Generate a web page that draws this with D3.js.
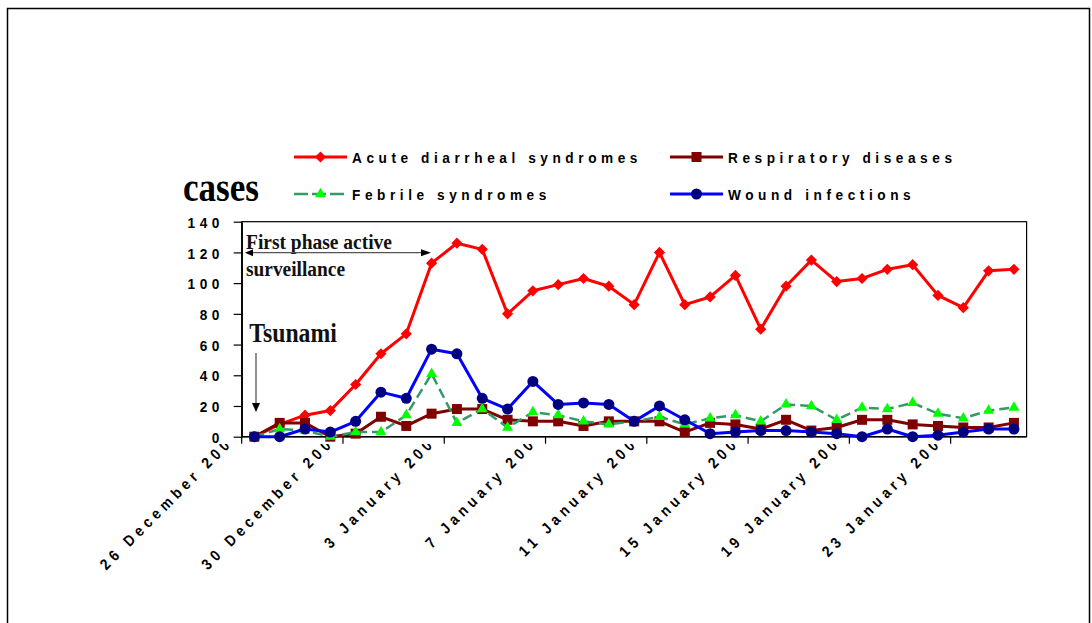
<!DOCTYPE html>
<html><head><meta charset="utf-8">
<script src="https://cdn.jsdelivr.net/npm/d3@7"></script>
<style>body{margin:0;background:#fff} svg{display:block}</style>
</head><body>
<svg id="c" width="1092" height="623"></svg>
<script>
const categories = ["26 December 2004","27 December 2004","28 December 2004","29 December 2004","30 December 2004","31 December 2004",
  "1 January 2005","2 January 2005","3 January 2005","4 January 2005","5 January 2005","6 January 2005","7 January 2005",
  "8 January 2005","9 January 2005","10 January 2005","11 January 2005","12 January 2005","13 January 2005","14 January 2005",
  "15 January 2005","16 January 2005","17 January 2005","18 January 2005","19 January 2005","20 January 2005","21 January 2005",
  "22 January 2005","23 January 2005","24 January 2005","25 January 2005"];
const acute       = [0,8,14,17,34,54,67,113,126,122,80,95,99,103,98,86,120,86,91,105,70,98,115,101,103,109,112,92,84,108,109];
const respiratory = [0,9,9,0,2,13,7,15,18,18,11,10,10,7,10,10,10,3,9,8,5,11,4,6,11,11,8,7,6,6,9];
const febrile     = [0,5,4,0,3,3,14,41,9,18,6,16,14,10,8,10,13,8,12,14,10,21,20,11,19,18,22,15,12,17,19];
const wound       = [0,0,5,3,10,29,25,57,54,25,18,36,21,22,21,10,20,11,2,3,4,4,3,2,0,5,0,1,3,5,5];
const seriesNames = ["Acute diarrheal syndromes","Respiratory diseases","Febrile syndromes","Wound infections"];
const yTicks = [0,20,40,60,80,100,120,140];
const xLabelStep = 4;

const svg = d3.select("#c");
const x = d3.scaleBand().domain(categories).range([241.7, 1026.6]).padding(0);
const y = d3.scaleLinear().domain([0,140]).range([436.7, 221.7]);
const cx = d => x(d) + x.bandwidth()/2;
const AR = "'Liberation Sans', Arial, sans-serif";
const TR = "'Liberation Serif', 'Times New Roman', serif";
const FS = 15.5, SX = 0.88, LS = "5.2px";
const styleAr = t => t.attr("font-family",AR).attr("font-weight","bold").attr("font-size",FS)
  .attr("letter-spacing",LS).attr("fill","#000");

// outer chart border
svg.append("rect").attr("x",7.5).attr("y",8.5).attr("width",1082).attr("height",700)
  .attr("fill","none").attr("stroke","#000").attr("stroke-width",1.5);

// x labels (clipped by plot area)
svg.append("defs").append("clipPath").attr("id","lc").append("rect")
  .attr("x",0).attr("y",444).attr("width",1092).attr("height",200);
const lg = svg.append("g").attr("clip-path","url(#lc)");
categories.forEach((d,i) => {
  if (i % xLabelStep) return;
  lg.append("text").attr("transform",`translate(${cx(d)-16},431) rotate(-45) scale(${SX},1)`)
    .attr("text-anchor","end").attr("dy","0.35em").call(styleAr).text(d);
});

// plot border
svg.append("rect").attr("x",x.range()[0]).attr("y",y(140)).attr("width",x.range()[1]-x.range()[0])
  .attr("height",y(0)-y(140)).attr("fill","none").attr("stroke","#000").attr("stroke-width",1.2);

// y axis
const ya = svg.append("g").attr("transform",`translate(${x.range()[0]},0)`)
  .call(d3.axisLeft(y).tickValues(yTicks).tickSize(8).tickSizeOuter(0).tickPadding(9.7));
ya.select(".domain").attr("stroke","#000").attr("stroke-width",1.5);
ya.selectAll(".tick line").attr("stroke","#000").attr("stroke-width",1.2);
ya.selectAll(".tick text").call(styleAr).attr("dy","0.36em")
  .attr("x",-17.7/SX).attr("transform",`scale(${SX},1)`);

// x axis line and ticks
svg.append("line").attr("x1",x.range()[0]).attr("x2",x.range()[1]).attr("y1",y(0)).attr("y2",y(0))
  .attr("stroke","#000").attr("stroke-width",1.5);
categories.forEach((d,i) => {
  if (i % xLabelStep) return;
  svg.append("line").attr("x1",x(d)).attr("x2",x(d)).attr("y1",y(0)).attr("y2",y(0)+7)
    .attr("stroke","#000").attr("stroke-width",1.2);
});

// markers
const diamond = r => `M0,${-r}L${r},0L0,${r}L${-r},0Z`;
const styles = [
  {data:acute, line:"#ff0000", w:3, dash:null, mark:diamond(5.6), fill:"#ff0000"},
  {data:respiratory, line:"#800000", w:3, dash:null, mark:d3.symbol().type(d3.symbolSquare).size(100)(), fill:"#800000"},
  {data:febrile, line:"#339966", w:2.5, dash:"10,5", mark:d3.symbol().type(d3.symbolTriangle).size(52)(), fill:"#00ff00"},
  {data:wound, line:"#0000ff", w:3, dash:null, mark:d3.symbol().type(d3.symbolCircle).size(95)(), fill:"#000080"}
];
const lineGen = d3.line().x((v,i)=>cx(categories[i])).y(v=>y(v));
styles.forEach(s => {
  const g = svg.append("g");
  g.append("path").attr("d",lineGen(s.data)).attr("fill","none").attr("stroke",s.line)
    .attr("stroke-width",s.w).attr("stroke-dasharray",s.dash).attr("stroke-linejoin","round");
  g.selectAll("path.m").data(s.data).enter().append("path").attr("class","m")
    .attr("d",s.mark).attr("fill",s.fill)
    .attr("transform",(v,i)=>`translate(${cx(categories[i])},${y(v)})`);
});

// legend
const legPos = [[294,157],[670,157],[294,194],[670,194]];
styles.forEach((s,k) => {
  const [lx,ly] = legPos[k];
  const g = svg.append("g").attr("transform",`translate(${lx},${ly})`);
  g.append("line").attr("x1",0).attr("x2",53).attr("stroke",s.line).attr("stroke-width",s.w)
    .attr("stroke-dasharray",s.dash ? "14,4" : null);
  g.append("path").attr("d",s.mark).attr("fill",s.fill).attr("transform","translate(26.5,0)");
  g.append("text").attr("transform",`translate(58,0) scale(${SX},1)`).attr("dy","0.36em")
    .call(styleAr).text(seriesNames[k]);
});

// titles & annotations
svg.append("text").attr("x",183).attr("y",201).attr("font-family",TR).attr("font-weight","bold")
  .attr("font-size",41).attr("textLength",76).attr("lengthAdjust","spacingAndGlyphs").attr("fill","#000").text("cases");
svg.append("text").attr("x",246).attr("y",249.3).attr("font-family",TR).attr("font-weight","bold")
  .attr("font-size",20).attr("textLength",146).attr("lengthAdjust","spacingAndGlyphs").attr("fill","#111").text("First phase active");
svg.append("text").attr("x",246).attr("y",276).attr("font-family",TR).attr("font-weight","bold")
  .attr("font-size",20).attr("textLength",99).attr("lengthAdjust","spacingAndGlyphs").attr("fill","#111").text("surveillance");
svg.append("text").attr("x",249.3).attr("y",341.7).attr("font-family",TR).attr("font-weight","bold")
  .attr("font-size",27.5).attr("textLength",87.5).attr("lengthAdjust","spacingAndGlyphs").attr("fill","#111").text("Tsunami");

// phase arrow
svg.append("line").attr("x1",250).attr("x2",424).attr("y1",252.7).attr("y2",252.7).attr("stroke","#555").attr("stroke-width",1.3);
svg.append("path").attr("d","M245,252.7L253,249.2L253,256.2Z").attr("fill","#000");
svg.append("path").attr("d","M431,252.7L421,249.2L421,256.2Z").attr("fill","#000");
// tsunami arrow
svg.append("line").attr("x1",256).attr("x2",256).attr("y1",353).attr("y2",405).attr("stroke","#555").attr("stroke-width",1.3);
svg.append("path").attr("d","M256,412L252,403L260,403Z").attr("fill","#000");
</script>
</body></html>
